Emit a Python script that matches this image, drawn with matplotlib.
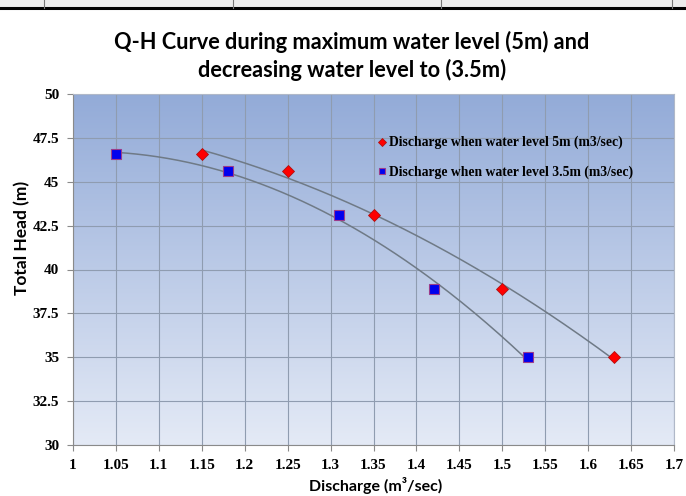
import numpy as np
import matplotlib
matplotlib.use("Agg")
import matplotlib.pyplot as plt
from matplotlib.colors import LinearSegmentedColormap
from matplotlib.lines import Line2D

# Data
head = [46.6, 45.6, 43.1, 38.9, 35.0]
q_5m = [1.15, 1.25, 1.35, 1.50, 1.63]
q_35m = [1.05, 1.18, 1.31, 1.42, 1.53]
label_5m = "Discharge when water level 5m (m3/sec)"
label_35m = "Discharge when water level 3.5m (m3/sec)"
xticks = [1, 1.05, 1.1, 1.15, 1.2, 1.25, 1.3, 1.35, 1.4, 1.45, 1.5, 1.55, 1.6, 1.65, 1.7]
xtick_labels = ["1", "1.05", "1.1", "1.15", "1.2", "1.25", "1.3", "1.35", "1.4", "1.45",
                "1.5", "1.55", "1.6", "1.65", "1.7"]
yticks = [30, 32.5, 35, 37.5, 40, 42.5, 45, 47.5, 50]
ytick_labels = ["30", "32.5", "35", "37.5", "40", "42.5", "45", "47.5", "50"]
title = "Q-H Curve during maximum water level (5m) and\ndecreasing water level to (3.5m)"
xlabel = "Discharge (m\u00b3/sec)"
ylabel = "Total Head (m)"

W, H = 686, 496
fig = plt.figure(figsize=(W / 100, H / 100), dpi=100)

# cropped table remnant at the top
fig.patches.append(plt.Rectangle((0, 1 - 7 / H), 1, 7 / H, transform=fig.transFigure,
                                 facecolor="#ececec", edgecolor="none"))
fig.add_artist(Line2D([0, 1], [1 - 8 / H, 1 - 8 / H], transform=fig.transFigure,
                      color="black", lw=2.2))
for xp in [44, 233, 441, 672]:
    fig.add_artist(Line2D([xp / W, xp / W], [1 - 8 / H, 1], transform=fig.transFigure,
                          color="#777777", lw=0.8))

ax = fig.add_axes([73 / W, 1 - 445 / H, (674 - 73) / W, (445 - 94) / H])

# gradient background
cmap = LinearSegmentedColormap.from_list("bg", ["#e4eaf6", "#93abd8"])
grad = np.linspace(0, 1, 256).reshape(-1, 1)
ax.imshow(grad, cmap=cmap, aspect="auto", extent=[0, 1, 0, 1], origin="lower",
          transform=ax.transAxes, zorder=0)

ax.set_xlim(1, 1.7)
ax.set_ylim(30, 50)
ax.set_xticks(xticks)
ax.set_xticklabels(xtick_labels)
ax.set_yticks(yticks)
ax.set_yticklabels(ytick_labels)
ax.grid(True, color="#8f9cb0", lw=0.8, zorder=1)
ax.set_axisbelow(True)
for s in ax.spines.values():
    s.set_color("#b0b8c8")
    s.set_linewidth(0.8)
ax.spines["left"].set_color("#8a8a8a")
ax.spines["bottom"].set_color("#8a8a8a")
ax.tick_params(axis="both", length=4, color="#8a8a8a", width=0.8, pad=6)
for lab in ax.get_xticklabels() + ax.get_yticklabels():
    lab.set_fontfamily("Liberation Serif")
    lab.set_fontweight("bold")
    lab.set_fontsize(11)

# trendlines (2nd-order polynomial fits)
for q in (q_5m, q_35m):
    c = np.polyfit(q, head, 2)
    xs = np.linspace(min(q), max(q), 200)
    ax.plot(xs, np.polyval(c, xs), color="#6f7a86", lw=1.1, zorder=2)

ax.plot(q_5m, head, linestyle="none", marker="D", markersize=6.3, color="#ff0000",
        markeredgecolor="#b01010", markeredgewidth=0.6, zorder=3, label=label_5m)
ax.plot(q_35m, head, linestyle="none", marker="s", markersize=7.8, color="#0000ee",
        markeredgecolor="#9b3b8b", markeredgewidth=0.8, zorder=3, label=label_35m)

leg = ax.legend(loc="upper left", bbox_to_anchor=((379 - 73) / 601, 1 - (136 - 94) / 351),
                frameon=False, handlelength=0.5, handletextpad=0.25, labelspacing=1.15,
                prop={"family": "Liberation Serif", "weight": "bold", "size": 9.8},
                markerscale=0.62, borderpad=0, borderaxespad=0)

fig.text(376 / W, 1 - 485 / H, xlabel, ha="center", va="center", fontfamily="Lato",
         fontweight="bold", fontsize=11.5)
fig.text(22 / W, 1 - 238 / H, ylabel, ha="center", va="center", rotation=90,
         fontfamily="Lato", fontweight="bold", fontsize=12.5)

fig.text(352 / W, 1 - 56 / H, title, ha="center", va="center", fontfamily="Lato",
         fontweight="bold", fontsize=15.7, linespacing=1.35)

fig.savefig("out.png", dpi=100)
